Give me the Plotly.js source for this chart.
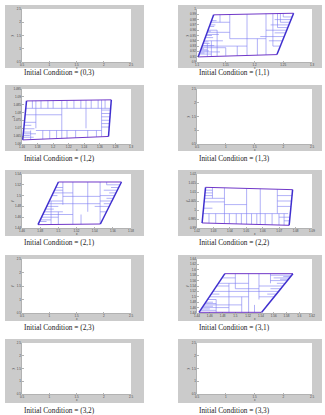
<!DOCTYPE html>
<html><head><meta charset="utf-8">
<script src="https://cdn.plot.ly/plotly-3.0.1.min.js"></script>
<style>html,body{margin:0;padding:0;background:#fff;overflow:hidden}#chart{width:325px;height:415px}</style>
</head><body><div id="chart"></div><script>
// ---------- DATA ----------
const captions = ['Initial Condition = (0,3)','Initial Condition = (1,1)','Initial Condition = (1,2)','Initial Condition = (1,3)','Initial Condition = (2,1)','Initial Condition = (2,2)','Initial Condition = (2,3)','Initial Condition = (3,1)','Initial Condition = (3,2)','Initial Condition = (3,3)'];
const xTitle = 'x';
const yTitle = 'y';
const emptyTicks = [0.5,1,1.5,2,2.5];

// (1,1)
const p11_xTicks = [1.1,1.15,1.2,1.25,1.3];
const p11_yTicks = [0.9,0.91,0.92,0.93,0.94,0.95,0.96,0.97,0.98,0.99,1.0];
const p11_cornerX = [1.102,1.239,1.268,1.129];
const p11_cornerY = [0.9096,0.914,0.992,0.989];
const p11_hY  = [0.915,0.919,0.923,0.927,0.931,0.935,0.94,0.946,0.952,0.96,0.97,0.956,0.944,0.93,0.975,0.94,0.948,0.955,0.96,0.965,0.97,0.975,0.98,0.985,0.93,0.917,0.921,0.925,0.938,0.95,0.958,0.967,0.978];
const p11_hX0 = [1.1038,1.1052,1.1066,1.108,1.1093,1.1106,1.1123,1.1143,1.1164,1.119,1.1225,1.1177,1.157,1.1089,1.1242,1.225,1.21,1.235,1.22,1.24,1.228,1.245,1.235,1.25,1.232,1.1045,1.1059,1.1072,1.1116,1.1157,1.1184,1.1215,1.1252];
const p11_hX1 = [1.125,1.14,1.118,1.15,1.13,1.122,1.145,1.128,1.138,1.135,1.132,1.157,1.22,1.187,1.157,1.2487,1.2516,1.2542,1.2561,1.258,1.2598,1.2617,1.2635,1.2654,1.245,1.113,1.121,1.112,1.12,1.126,1.124,1.13,1.134];
const p11_vX  = [1.157,1.187,1.22,1.14,1.135,1.15,1.17,1.232,1.205,1.245,1.125,1.118,1.24,1.25];
const p11_vY0 = [0.9897,0.9902,0.9915,0.9892,0.96,0.927,0.93,0.9912,0.944,0.9914,0.94,0.935,0.9914,0.9916];
const p11_vY1 = [0.944,0.9123,0.9134,0.975,0.911,0.9118,0.9118,0.93,0.9131,0.975,0.9108,0.9105,0.965,0.985];

// (1,2)
const p12_xTicks = [1.16,1.18,1.2,1.22,1.24,1.26,1.28,1.3];
const p12_yTicks = [1.06,1.065,1.07,1.075,1.08,1.085,1.09,1.095];
const p12_cornerX = [1.1609,1.2711,1.2747,1.1658];
const p12_cornerY = [1.0626,1.0648,1.0881,1.0874];
const p12_hY  = [1.0827,1.0786,1.0738,1.0686,1.0719,1.0697,1.0676,1.0665,1.0654,1.0643,1.0816,1.0794,1.0773,1.0751,1.073,1.0708];
const p12_hX0 = [1.1649,1.1643,1.1636,1.1778,1.1633,1.1623,1.1619,1.1617,1.1615,1.1612,1.2622,1.2622,1.2622,1.2622,1.2622,1.2622];
const p12_hX1 = [1.2739,1.2111,1.1778,1.2622,1.172,1.176,1.171,1.178,1.17,1.175,1.2738,1.2734,1.2731,1.2727,1.2724,1.2721];
const p12_vX  = [1.1778,1.2111,1.2422,1.2622,1.1733,1.1844,1.1933,1.2,1.2178,1.2267,1.2356,1.2489,1.2578,1.2667,1.1711,1.1867,1.1956,1.2044,1.2178,1.2289,1.2444,1.2556];
const p12_vY0 = [1.0875,1.0877,1.0879,1.088,1.0875,1.0876,1.0876,1.0876,1.0877,1.0878,1.0879,1.0879,1.088,1.088,1.0686,1.0686,1.0686,1.0686,1.0686,1.0686,1.0686,1.0686];
const p12_vY1 = [1.07,1.0636,1.07,1.0646,1.0827,1.0827,1.0827,1.0827,1.0827,1.0827,1.0827,1.0827,1.0827,1.0827,1.0628,1.0631,1.0633,1.0635,1.0637,1.064,1.0643,1.0645];

// (2,1)
const p21_xTicks = [1.46,1.48,1.5,1.52,1.54,1.56,1.58];
const p21_yTicks = [1.44,1.46,1.48,1.5,1.52,1.54];
const p21_cornerX = [1.4776,1.5463,1.5695,1.5001];
const p21_cornerY = [1.4462,1.4474,1.5252,1.5252];
const p21_hY  = [1.455,1.46,1.465,1.47,1.475,1.48,1.49,1.5,1.51,1.452,1.4986,1.485,1.465,1.515,1.505,1.47,1.48,1.485,1.49,1.495,1.5,1.505,1.51,1.515,1.52];
const p21_hX0 = [1.4801,1.4815,1.4829,1.4843,1.4858,1.4872,1.49,1.4929,1.4958,1.4793,1.505,1.4886,1.49,1.4972,1.4944,1.546,1.54,1.55,1.546,1.553,1.546,1.556,1.55,1.558,1.5532];
const p21_hX1 = [1.492,1.5,1.49,1.505,1.495,1.5,1.505,1.499,1.505,1.487,1.546,1.546,1.516,1.505,1.516,1.553,1.556,1.5575,1.559,1.5605,1.562,1.5635,1.565,1.5664,1.5679];
const p21_vX  = [1.505,1.516,1.5324,1.546,1.492,1.5532,1.5,1.525];
const p21_vY0 = [1.5252,1.5252,1.5252,1.5252,1.49,1.5252,1.47,1.465];
const p21_vY1 = [1.483,1.4466,1.47,1.4474,1.4464,1.52,1.4465,1.447];

// (2,2)
const p22_xTicks = [1.02,1.03,1.04,1.05,1.06,1.07,1.08,1.09];
const p22_yTicks = [0.99,0.995,1.0,1.005,1.01,1.015,1.02];
const p22_cornerX = [1.0231,1.0761,1.0782,1.0252];
const p22_cornerY = [0.9928,0.9915,1.0113,1.0126];
const p22_hY  = [1.0065,0.998,1.003,1.011,1.0095,1.008,1.0045,1.001,1.008,1.005,1.002,0.996,0.994];
const p22_hX0 = [1.0245,1.0236,1.0367,1.025,1.0249,1.0247,1.0243,1.024,1.0689,1.0689,1.0689,1.0699,1.073];
const p22_hX1 = [1.0367,1.0755,1.0502,1.0294,1.0294,1.0294,1.0367,1.0294,1.0779,1.0775,1.0772,1.0766,1.0764];
const p22_vX  = [1.0367,1.0502,1.0585,1.0294,1.0689,1.0273,1.0314,1.0397,1.0439,1.047,1.0532,1.0564,1.0615,1.0657,1.0699,1.073];
const p22_vY0 = [1.0123,1.012,1.0118,1.0125,1.0115,0.998,0.998,0.998,0.998,0.998,0.998,0.998,0.998,0.998,0.998,0.998];
const p22_vY1 = [0.9925,0.9921,0.9919,1.0065,0.998,0.9927,0.9926,0.9924,0.9923,0.9922,0.9921,0.992,0.9919,0.9918,0.9917,0.9916];

// (3,1)
const p31_xTicks = [1.44,1.46,1.48,1.5,1.52,1.54,1.56,1.58,1.6,1.62];
const p31_yTicks = [1.44,1.46,1.48,1.5,1.52,1.54,1.56,1.58,1.6,1.62,1.64];
const p31_cornerX = [1.4431,1.5413,1.5901,1.4836];
const p31_cornerY = [1.4425,1.4425,1.5857,1.5857];
const p31_hY  = [1.55,1.52,1.5,1.53,1.47,1.45,1.455,1.46,1.465,1.475,1.48,1.49,1.51,1.54,1.57,1.5,1.51,1.53,1.54,1.55,1.56,1.565,1.57,1.575,1.58];
const p31_hX0 = [1.4735,1.465,1.4594,1.5,1.4509,1.4452,1.4466,1.448,1.4495,1.4523,1.4537,1.4565,1.4622,1.4707,1.4792,1.537,1.55,1.555,1.537,1.565,1.555,1.57,1.56,1.575,1.555];
const p31_hX1 = [1.5208,1.5677,1.5208,1.537,1.51,1.47,1.46,1.49,1.465,1.47,1.465,1.47,1.475,1.49,1.5,1.5609,1.5643,1.5711,1.5745,1.5779,1.5813,1.583,1.5847,1.5864,1.588];
const p31_vX  = [1.5,1.5208,1.537,1.49,1.47,1.555,1.51,1.53];
const p31_vY0 = [1.5857,1.5857,1.5857,1.55,1.49,1.5857,1.5,1.47];
const p31_vY1 = [1.53,1.4425,1.49,1.4425,1.4425,1.55,1.4425,1.4425];

// ---------- LAYOUT GEOMETRY ----------
const W = 325, H = 415;
const cols = [
  {gx0:5, gx1:144, px0:22, px1:131, cx:22, ytx:12},
  {gx0:178, gx1:322, px0:197, px1:312, cx:197, ytx:187}
];
const rows = [
  {gy0:5,   gy1:68,  py0:9,   py1:62,  cy:72.5},
  {gy0:85,  gy1:151, py0:89,  py1:144, cy:158},
  {gy0:170, gy1:236, py0:174, py1:228, cy:242},
  {gy0:255, gy1:321, py0:259, py1:313, cy:327},
  {gy0:339, gy1:403, py0:343, py1:394, cy:410}
];
const panelData = {
  1: {xt:p11_xTicks, yt:p11_yTicks, cx:p11_cornerX, cy:p11_cornerY, hY:p11_hY, hX0:p11_hX0, hX1:p11_hX1, vX:p11_vX, vY0:p11_vY0, vY1:p11_vY1},
  2: {xt:p12_xTicks, yt:p12_yTicks, cx:p12_cornerX, cy:p12_cornerY, hY:p12_hY, hX0:p12_hX0, hX1:p12_hX1, vX:p12_vX, vY0:p12_vY0, vY1:p12_vY1},
  4: {xt:p21_xTicks, yt:p21_yTicks, cx:p21_cornerX, cy:p21_cornerY, hY:p21_hY, hX0:p21_hX0, hX1:p21_hX1, vX:p21_vX, vY0:p21_vY0, vY1:p21_vY1},
  5: {xt:p22_xTicks, yt:p22_yTicks, cx:p22_cornerX, cy:p22_cornerY, hY:p22_hY, hX0:p22_hX0, hX1:p22_hX1, vX:p22_vX, vY0:p22_vY0, vY1:p22_vY1},
  7: {xt:p31_xTicks, yt:p31_yTicks, cx:p31_cornerX, cy:p31_cornerY, hY:p31_hY, hX0:p31_hX0, hX1:p31_hX1, vX:p31_vX, vY0:p31_vY0, vY1:p31_vY1}
};

const traces = [];
const layout = {
  width: W, height: H,
  margin: {l:0, r:0, t:0, b:0},
  paper_bgcolor: '#ffffff',
  plot_bgcolor: 'rgba(0,0,0,0)',
  showlegend: false,
  shapes: [], annotations: []
};
const tickFont = {family:'Liberation Sans, Arial, sans-serif', size:3.0, color:'#444'};
const axTitleFont = {family:'Liberation Sans, Arial, sans-serif', size:3.0, color:'#444'};

for (let i = 0; i < 10; i++) {
  const c = cols[i % 2], r = rows[Math.floor(i / 2)];
  const n = i + 1;
  const xa = 'x' + (n === 1 ? '' : n), ya = 'y' + (n === 1 ? '' : n);
  const xk = 'xaxis' + (n === 1 ? '' : n), yk = 'yaxis' + (n === 1 ? '' : n);
  const d = panelData[i];
  const xt = d ? d.xt : emptyTicks, yt = d ? d.yt : emptyTicks;

  layout.shapes.push({type:'rect', xref:'paper', yref:'paper', layer:'below',
    x0:c.gx0/W, x1:c.gx1/W, y0:1-r.gy1/H, y1:1-r.gy0/H, fillcolor:'#cbcbcb', line:{width:0}});
  layout.shapes.push({type:'rect', xref:'paper', yref:'paper', layer:'below',
    x0:c.px0/W, x1:c.px1/W, y0:1-r.py1/H, y1:1-r.py0/H, fillcolor:'#ffffff', line:{width:0}});

  layout[xk] = {domain:[c.px0/W, c.px1/W], anchor:ya, range:[xt[0], xt[xt.length-1]],
    tickmode:'array', tickvals:xt, ticks:'inside', ticklen:1.5, tickwidth:0.5, tickcolor:'#666',
    showgrid:false, zeroline:false, showline:true, linecolor:'#999', linewidth:0.5,
    tickfont:tickFont, automargin:false, fixedrange:true};
  layout[yk] = {domain:[1-r.py1/H, 1-r.py0/H], anchor:xa, range:[yt[0], yt[yt.length-1]],
    tickmode:'array', tickvals:yt, ticks:'inside', ticklen:1.5, tickwidth:0.5, tickcolor:'#666',
    showgrid:false, zeroline:false, showline:true, linecolor:'#999', linewidth:0.5,
    tickfont:tickFont, automargin:false, fixedrange:true};

  // axis titles placed as annotations inside the grey frame
  layout.annotations.push({xref:'paper', yref:'paper', x:(c.px0+c.px1)/2/W, y:1-(r.py1+5.9)/H,
    xanchor:'center', yanchor:'middle', text:xTitle, showarrow:false, font:axTitleFont});
  layout.annotations.push({xref:'paper', yref:'paper', x:c.ytx/W, y:1-(r.py0+r.py1)/2/H,
    xanchor:'center', yanchor:'middle', text:yTitle, textangle:-90, showarrow:false, font:axTitleFont});

  layout.annotations.push({xref:'paper', yref:'paper', x:c.cx/W, y:1-r.cy/H, xanchor:'left', yanchor:'middle',
    text:captions[i], showarrow:false, font:{family:'Liberation Serif, DejaVu Serif, serif', size:7.3, color:'#222'}});

  if (!d) {
    traces.push({type:'scatter', mode:'lines', x:[], y:[], xaxis:xa, yaxis:ya, hoverinfo:'skip'});
    continue;
  }
  const sx = [], sy = [];
  d.hY.forEach((yy, k) => { sx.push(d.hX0[k], d.hX1[k], null); sy.push(yy, yy, null); });
  d.vX.forEach((xx, k) => { sx.push(xx, xx, null); sy.push(d.vY0[k], d.vY1[k], null); });
  traces.push({type:'scatter', mode:'lines', x:sx, y:sy, xaxis:xa, yaxis:ya,
    line:{color:'#7c7cf2', width:0.6}, hoverinfo:'skip', connectgaps:false});
  // top & bottom edges
  traces.push({type:'scatter', mode:'lines', xaxis:xa, yaxis:ya, hoverinfo:'skip',
    x:[d.cx[0], d.cx[1], null, d.cx[3], d.cx[2]], y:[d.cy[0], d.cy[1], null, d.cy[3], d.cy[2]],
    line:{color:'#7037c8', width:1.0}});
  // slanted sides
  traces.push({type:'scatter', mode:'lines', xaxis:xa, yaxis:ya, hoverinfo:'skip',
    x:[d.cx[0], d.cx[3], null, d.cx[1], d.cx[2]], y:[d.cy[0], d.cy[3], null, d.cy[1], d.cy[2]],
    line:{color:'#3f2fcf', width:1.5}});
}

Plotly.newPlot('chart', traces, layout, {displayModeBar:false, staticPlot:true});
</script></body></html>
